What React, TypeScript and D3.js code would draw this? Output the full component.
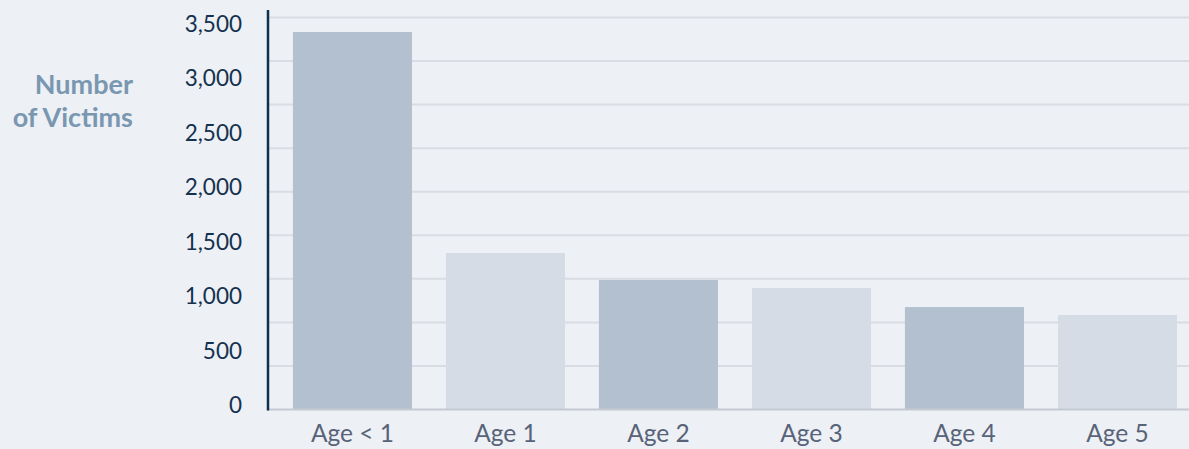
import React, { useEffect, useRef } from 'react';
import * as d3 from 'd3';

const ages = ['Age < 1', 'Age 1', 'Age 2', 'Age 3', 'Age 4', 'Age 5'];
const victims = [3467, 1437, 1189, 1116, 941, 868];
const barColors = ['#b3c0cf', '#d5dce5'];
const labelTicks = [0, 500, 1000, 1500, 2000, 2500, 3000, 3500];
const gridTicks = [0, 400, 800, 1200, 1600, 2000, 2400, 2800, 3200, 3600];

const width = 1189;
const height = 449;

const App = () => {
  const ref = useRef<SVGSVGElement>(null);

  useEffect(() => {
    const svg = d3.select(ref.current);
    svg.selectAll('*').remove();

    const axisX = 268;
    const y = d3.scaleLinear().domain([0, 3600]).range([409.5, 17.5]);
    const x = d3
      .scaleBand()
      .domain(ages)
      .range([axisX, axisX + 153 * 6.104])
      .paddingInner(0.222)
      .paddingOuter(0.163);

    svg
      .append('rect')
      .attr('width', width)
      .attr('height', height)
      .attr('fill', '#edf0f4');

    // grid lines
    svg
      .selectAll('.grid')
      .data(gridTicks.slice(1))
      .enter()
      .append('line')
      .attr('class', 'grid')
      .attr('x1', axisX)
      .attr('x2', width)
      .attr('y1', (d) => y(d))
      .attr('y2', (d) => y(d))
      .attr('stroke', '#d9dce2')
      .attr('stroke-width', 2);

    svg
      .selectAll('.bar')
      .data(victims)
      .enter()
      .append('rect')
      .attr('class', 'bar')
      .attr('x', (d, i) => x(ages[i]) as number)
      .attr('y', (d) => y(d))
      .attr('width', x.bandwidth())
      .attr('height', (d) => y(0) - y(d))
      .attr('fill', (d, i) => barColors[i % 2]);

    // baseline
    svg
      .append('line')
      .attr('x1', axisX)
      .attr('x2', width)
      .attr('y1', y(0))
      .attr('y2', y(0))
      .attr('stroke', '#c5c9d1')
      .attr('stroke-width', 2);

    // y axis line
    svg
      .append('line')
      .attr('x1', axisX)
      .attr('x2', axisX)
      .attr('y1', 10)
      .attr('y2', y(0) + 1)
      .attr('stroke', '#0f3150')
      .attr('stroke-width', 2.5);

    svg
      .selectAll('.ylabel')
      .data(labelTicks)
      .enter()
      .append('text')
      .attr('class', 'ylabel')
      .attr('x', 242)
      .attr('y', (d) => y(d) - 4.5)
      .attr('dy', '0.36em')
      .attr('text-anchor', 'end')
      .attr('font-family', 'Lato, sans-serif')
      .attr('font-size', 22.5)
      .attr('fill', '#143250')
      .text((d) => d3.format(',')(d));

    svg
      .selectAll('.xlabel')
      .data(ages)
      .enter()
      .append('text')
      .attr('class', 'xlabel')
      .attr('x', (d) => (x(d) as number) + x.bandwidth() / 2)
      .attr('y', 442)
      .attr('text-anchor', 'middle')
      .attr('font-family', 'Lato, sans-serif')
      .attr('font-size', 24.5)
      .attr('fill', '#586379')
      .text((d) => d);

    const title = svg
      .append('text')
      .attr('text-anchor', 'end')
      .attr('font-family', 'Lato, sans-serif')
      .attr('font-size', 27)
      .attr('font-weight', 'bold')
      .attr('fill', '#7a97b1');
    title.append('tspan').attr('x', 133).attr('y', 94).text('Number');
    title.append('tspan').attr('x', 133).attr('y', 126.5).text('of Victims');
  }, []);

  return (
    <svg
      ref={ref}
      width={width}
      height={height}
      style={{ position: 'absolute', left: 0, top: 0 }}
    />
  );
};

export default App;
